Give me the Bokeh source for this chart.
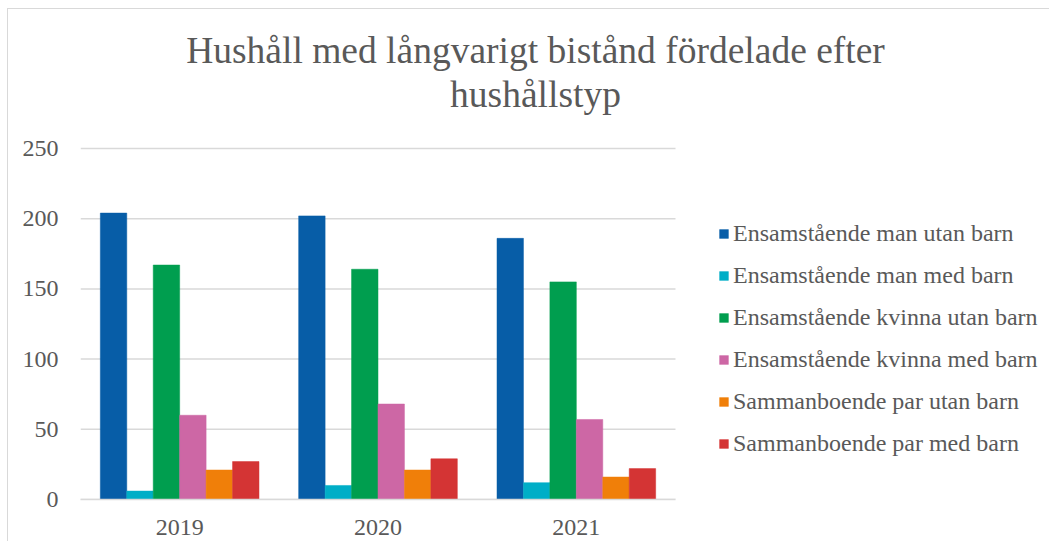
from bokeh.plotting import figure
from bokeh.models import ColumnDataSource, Range1d, FixedTicker, Legend, LegendItem, Label
from bokeh.transform import dodge
from bokeh.embed import file_html
from bokeh.resources import INLINE

years = ["2019", "2020", "2021"]
series_names = [
    "Ensamstående man utan barn",
    "Ensamstående man med barn",
    "Ensamstående kvinna utan barn",
    "Ensamstående kvinna med barn",
    "Sammanboende par utan barn",
    "Sammanboende par med barn",
]
man_utan = [204, 202, 186]
man_med = [6, 10, 12]
kvinna_utan = [167, 164, 155]
kvinna_med = [60, 68, 57]
par_utan = [21, 21, 16]
par_med = [27, 29, 22]
y_ticks = [0, 50, 100, 150, 200, 250]
title_lines = ["Hushåll med långvarigt bistånd fördelade efter", "hushållstyp"]

colors = ["#075DA7", "#00AEC7", "#009E4F", "#CD67A5", "#F07F09", "#D43434"]
keys = ["s0", "s1", "s2", "s3", "s4", "s5"]
n = len(years)
xc = [i + 0.5 for i in range(n)]
src = ColumnDataSource(dict(x=xc, s0=man_utan, s1=man_med, s2=kvinna_utan,
                            s3=kvinna_med, s4=par_utan, s5=par_med))

FONT = "Liberation Serif"
TXT = "#595959"
FS = "24px"

# layout (pixels): plot area 80..675 horizontally, y=0 at 499, y=250 at 148
W, H = 1049, 541
LEFT, RIGHT_PX, BOTTOM_PX, TOP_PX = 80, 675, 499, 148
ymax = y_ticks[-1]
x_end = n * (W - LEFT) / (RIGHT_PX - LEFT)
y_end = ymax * BOTTOM_PX / (BOTTOM_PX - TOP_PX)

p = figure(width=W, height=H, x_range=Range1d(0, x_end), y_range=Range1d(0, y_end),
           output_backend="svg", toolbar_location=None,
           min_border_left=LEFT, min_border_right=0, min_border_top=0,
           min_border_bottom=H - BOTTOM_PX)
p.outline_line_color = None
p.background_fill_color = None
p.border_fill_color = None
p.styles = {
    "background": "linear-gradient(#d9d9d9,#d9d9d9) 7px 8px / 1px 100% no-repeat, "
                  "linear-gradient(#d9d9d9,#d9d9d9) 7px 8px / 100% 1px no-repeat, white"
}

# horizontal grid lines limited to the plot area
p.segment(x0=[0] * len(y_ticks), x1=[n] * len(y_ticks), y0=y_ticks, y1=y_ticks,
          line_color="#d9d9d9", line_width=1.5)

bw = 0.8 / 6
items = []
for i, (k, c, name) in enumerate(zip(keys, colors, series_names)):
    off = -0.4 + bw / 2 + i * bw
    r = p.vbar(x=dodge("x", off), top=k, width=bw, source=src,
               fill_color=c, line_color=c, line_width=0.5)
    items.append(LegendItem(label=name, renderers=[r]))

legend = Legend(items=items, location=(638, 42), orientation="vertical",
                glyph_width=11, glyph_height=11, label_height=24, spacing=15,
                label_standoff=4, padding=0, margin=0, border_line_color=None,
                background_fill_alpha=0,
                label_text_font=FONT, label_text_font_size=FS, label_text_color=TXT)
p.add_layout(legend)

p.yaxis.ticker = FixedTicker(ticks=y_ticks)
p.yaxis.bounds = (0, ymax)
p.yaxis.axis_line_color = None
p.yaxis.major_tick_line_color = None
p.yaxis.minor_tick_line_color = None
p.yaxis.major_label_standoff = 16
p.yaxis.major_label_text_font = FONT
p.yaxis.major_label_text_font_size = FS
p.yaxis.major_label_text_color = TXT

p.xaxis.ticker = FixedTicker(ticks=xc)
p.xaxis.major_label_overrides = {x: y for x, y in zip(xc, years)}
p.xaxis.bounds = (0, n)
p.xaxis.axis_line_color = "#d9d9d9"
p.xaxis.axis_line_width = 1.5
p.xaxis.major_tick_line_color = None
p.xaxis.minor_tick_line_color = None
p.xaxis.major_label_standoff = 14
p.xaxis.major_label_text_font = FONT
p.xaxis.major_label_text_font_size = FS
p.xaxis.major_label_text_color = TXT

p.xgrid.grid_line_color = None
p.ygrid.grid_line_color = None

for txt, yy in zip(title_lines, [BOTTOM_PX - 50, BOTTOM_PX - 94]):
    p.add_layout(Label(x=535 - LEFT, y=yy, x_units="screen", y_units="screen", text=txt,
                       text_align="center", text_baseline="alphabetic",
                       text_font=FONT, text_font_size="37.5px", text_color=TXT))

open("out.html", "w").write(file_html(p, INLINE))
